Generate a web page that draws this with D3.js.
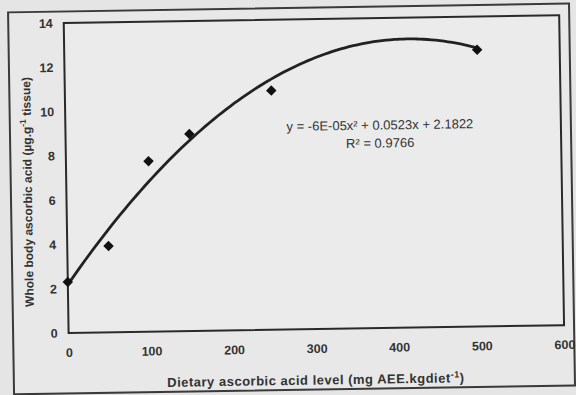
<!DOCTYPE html>
<html>
<head>
<meta charset="utf-8">
<script src="https://cdn.jsdelivr.net/npm/d3@7"></script>
<style>
  body { margin: 0; background: #e6e6e6; }
  svg { display: block; font-family: Arial, "Liberation Sans", sans-serif; }
</style>
</head>
<body>
<div id="chart"></div>
<script>
// Data
const levels = [0, 50, 100, 150, 250, 500];
const ascorbic = [2.3, 3.9, 7.7, 8.9, 10.8, 12.5];
const xTicks = [0, 100, 200, 300, 400, 500, 600];
const yTicks = [0, 2, 4, 6, 8, 10, 12, 14];
// polynomial trendline y = a x^2 + b x + c
const trendCoef = [-6.3e-5, 0.0523, 2.1822];
const trendText = ['y = -6E-05x\u00b2 + 0.0523x + 2.1822', 'R\u00b2 = 0.9766'];

const width = 576, height = 395;
const margin = { top: 19.5, right: 14, bottom: 65.5, left: 66.5 };

const svg = d3.select('#chart')
  .append('svg')
  .attr('width', width)
  .attr('height', height);

svg.append('rect')
  .attr('width', width).attr('height', height)
  .attr('fill', '#e5e5e5');

// the scan is slightly tilted
const g = svg.append('g')
  .attr('transform', 'rotate(-0.9, 288, 197)');

// outer chart frame
g.append('rect')
  .attr('x', 11).attr('y', 8)
  .attr('width', 561).attr('height', 382)
  .attr('fill', '#e8e8e8')
  .attr('stroke', '#3a3a3a').attr('stroke-width', 2);

const x = d3.scaleLinear()
  .domain([0, 600])
  .range([margin.left, width - margin.right]);
const y = d3.scaleLinear()
  .domain([0, 14])
  .range([height - margin.bottom, margin.top]);

// plot area
g.append('rect')
  .attr('x', x(0)).attr('y', y(14))
  .attr('width', x(600) - x(0)).attr('height', y(0) - y(14))
  .attr('fill', '#ebebeb')
  .attr('stroke', '#2a2a2a').attr('stroke-width', 2);

const xAxis = g.append('g')
  .attr('transform', `translate(0,${y(0)})`)
  .call(d3.axisBottom(x).tickValues(xTicks).tickSize(0).tickPadding(15));
const yAxis = g.append('g')
  .attr('transform', `translate(${x(0)},0)`)
  .call(d3.axisLeft(y).tickValues(yTicks).tickSize(0).tickPadding(11));
[xAxis, yAxis].forEach(a => {
  a.select('.domain').remove();
  a.selectAll('text')
    .attr('font-size', 12.5)
    .attr('font-weight', 'bold')
    .attr('fill', '#333');
});

// trendline
const line = d3.line()
  .x(d => x(d))
  .y(d => y(trendCoef[0] * d * d + trendCoef[1] * d + trendCoef[2]))
  .curve(d3.curveBasis);
g.append('path')
  .datum(d3.range(0, 501, 5))
  .attr('d', line)
  .attr('fill', 'none')
  .attr('stroke', '#222')
  .attr('stroke-width', 2.8);

// points
g.selectAll('.pt')
  .data(levels)
  .enter().append('path')
  .attr('class', 'pt')
  .attr('transform', (d, i) => `translate(${x(d)},${y(ascorbic[i])})`)
  .attr('d', d3.symbol(d3.symbolDiamond2, 70))
  .attr('fill', '#111');

// equation
g.selectAll('.eq')
  .data(trendText)
  .enter().append('text')
  .attr('class', 'eq')
  .attr('x', 381)
  .attr('y', (d, i) => 131 + i * 18)
  .attr('text-anchor', 'middle')
  .attr('font-size', 13)
  .attr('fill', '#333')
  .text(d => d);

// axis titles
g.append('text')
  .attr('x', 313).attr('y', 385)
  .attr('text-anchor', 'middle')
  .attr('font-size', 13)
  .attr('letter-spacing', 0.5)
  .attr('font-weight', 'bold')
  .attr('fill', '#333')
  .html('Dietary ascorbic acid level (mg AEE.kgdiet<tspan dy="-5" font-size="9">-1</tspan><tspan dy="5">)</tspan>');

g.append('text')
  .attr('transform', 'translate(32,188) rotate(-90)')
  .attr('text-anchor', 'middle')
  .attr('font-size', 12)
  .attr('font-weight', 'bold')
  .attr('fill', '#333')
  .html('Whole body ascorbic acid (\u00b5g.g<tspan dy="-5" font-size="8.5">-1</tspan><tspan dy="5"> tissue)</tspan>');
</script>
</body>
</html>
